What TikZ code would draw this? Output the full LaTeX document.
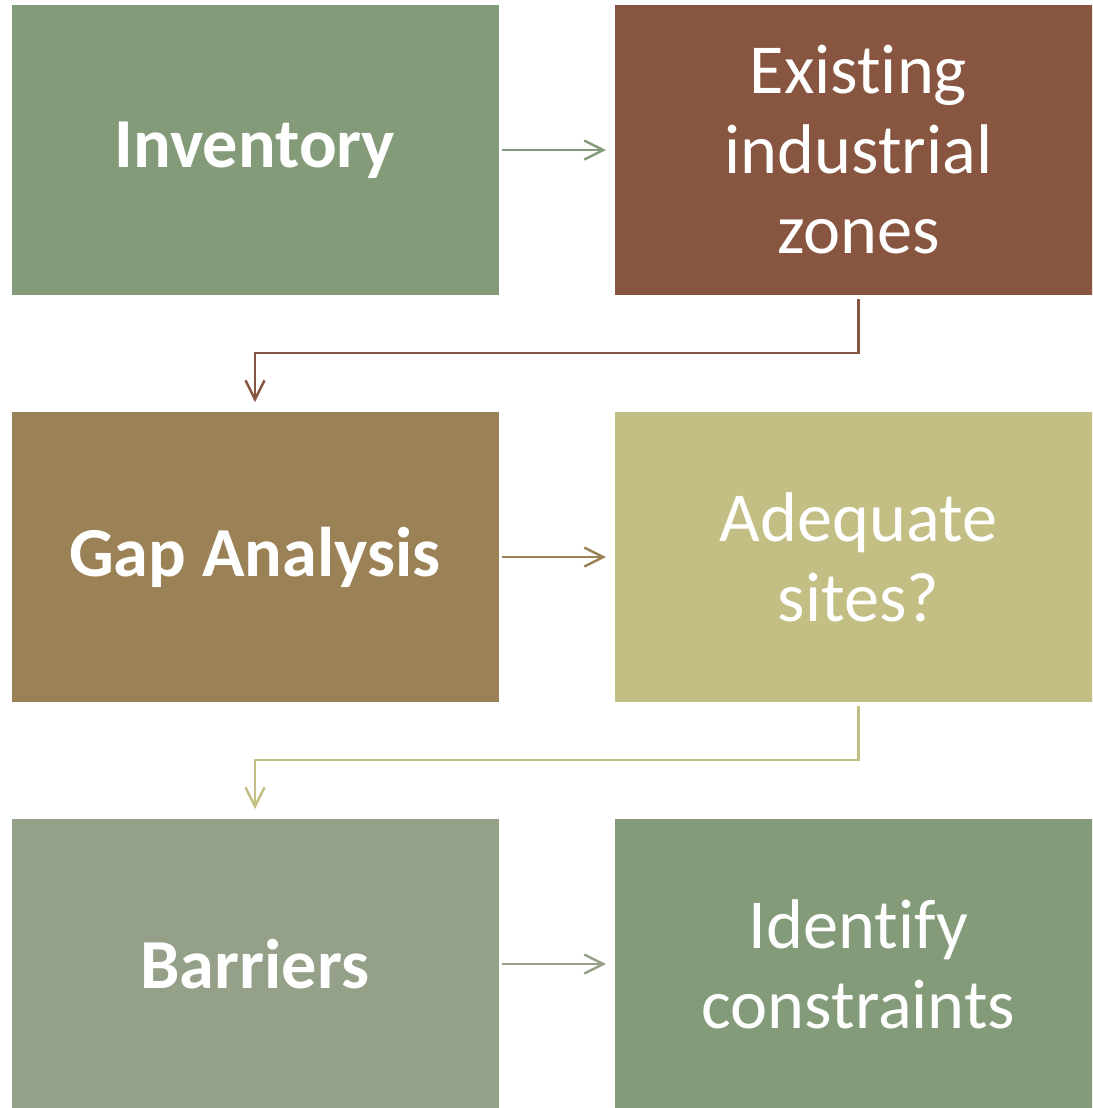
\documentclass[tikz,border=0pt]{standalone}
\usepackage{fontspec}
\setmainfont{Carlito}[Ligatures=NoCommon]
\usetikzlibrary{positioning,arrows.meta}

\definecolor{invgreen}{HTML}{839B79}
\definecolor{zonebrown}{HTML}{885640}
\definecolor{gapbrown}{HTML}{9B8256}
\definecolor{sitekhaki}{HTML}{C3BE83}
\definecolor{barrgrey}{HTML}{94A088}
\definecolor{consgreen}{HTML}{839B79}

\begin{document}
\begin{tikzpicture}[
  box/.style={minimum width=9.74cm,minimum height=5.8cm,inner sep=0pt,outer sep=0pt,
    text=white,align=center,font=\fontsize{40}{45.5}\selectfont},
  boldbox/.style={box,font=\fontsize{40}{45.5}\selectfont\bfseries},
  flow/.style={line width=1.4pt,-{Straight Barb[length=0.38cm,width=0.38cm,line width=1.4pt]}},
]
\useasboundingbox (0,0) rectangle (21.84,-22.16);
\clip (0,0) rectangle (21.84,-22.16);

\begin{scope}
% left column: steps, right column: results
\node[boldbox,fill=invgreen] (inv) at (5.1,-3.0) {Inventory};
\node[box,fill=zonebrown,right=2.33cm of inv] (zones) {Existing\\industrial\\zones};
\node[boldbox,fill=gapbrown,below=2.34cm of inv] (gap) {Gap Analysis};
\node[box,fill=sitekhaki,right=2.33cm of gap] (sites) {Adequate\\sites?};
\node[boldbox,fill=barrgrey,below=2.34cm of gap] (barr) {Barriers};
\node[box,fill=consgreen,right=2.33cm of barr] (cons) {Identify\\constraints};

\draw[flow,invgreen,shorten <=0.07cm,shorten >=0.18cm] (inv) -- (zones);
\draw[flow,gapbrown,shorten <=0.07cm,shorten >=0.18cm] (gap) -- (sites);
\draw[flow,barrgrey,shorten <=0.07cm,shorten >=0.18cm] (barr) -- (cons);

\draw[flow,zonebrown,shorten <=0.08cm,shorten >=0.2cm]
  (zones.south) -- ++(0,-1.16) -| (gap.north);
\draw[flow,sitekhaki,shorten <=0.08cm,shorten >=0.2cm]
  (sites.south) -- ++(0,-1.16) -| (barr.north);
\end{scope}
\end{tikzpicture}
\end{document}
